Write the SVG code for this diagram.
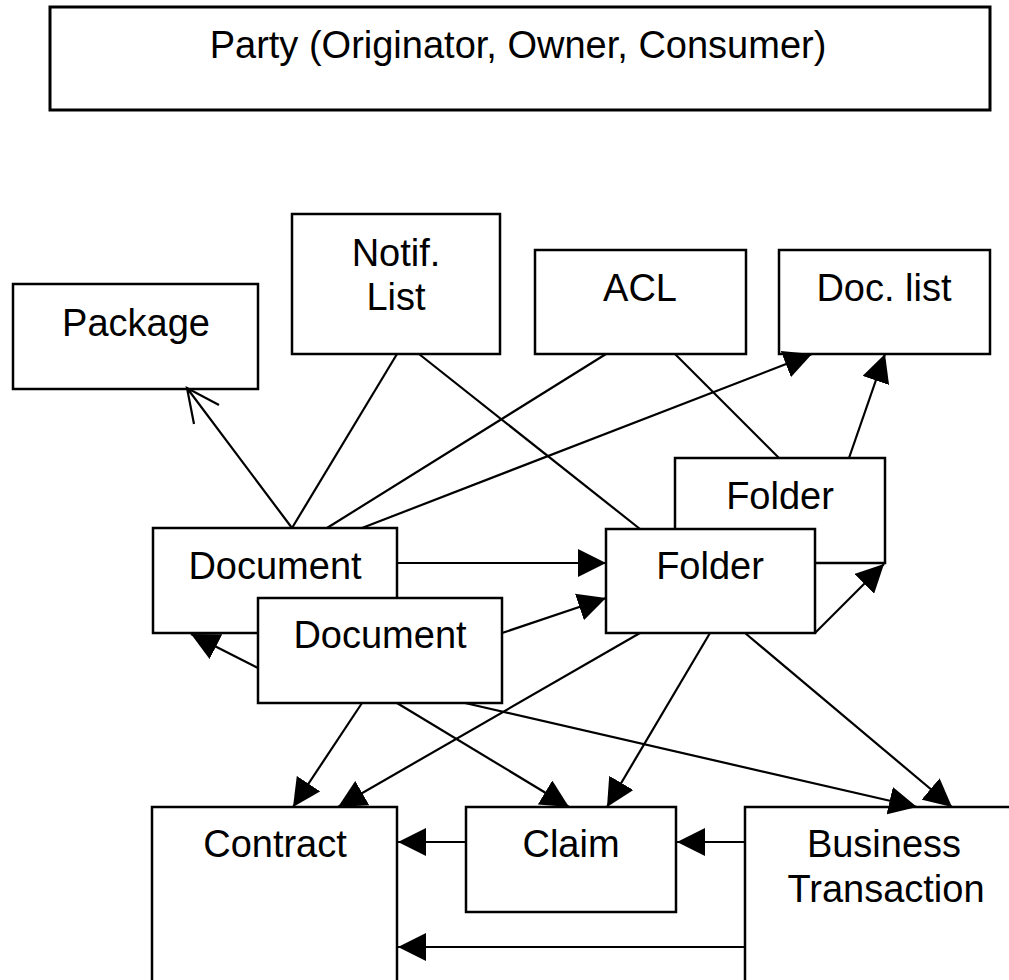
<svg xmlns="http://www.w3.org/2000/svg" width="1009" height="980" viewBox="0 0 1009 980">
<style>
.box{fill:#fff;stroke:#000;stroke-width:2.5}
.lbl{font-family:"Liberation Sans",Arial,sans-serif;font-size:38px;fill:#000;text-anchor:middle}
.ln{fill:none;stroke:#000;stroke-width:2.2}
.arr{marker-end:url(#ah)}
</style>
<defs>
<marker id="ah" markerUnits="userSpaceOnUse" markerWidth="29" markerHeight="28" refX="28" refY="14" orient="auto" viewBox="0 0 29 28">
<path d="M0,0 L28,14 L0,28 z" fill="#000"/>
</marker>
</defs>
<rect width="1009" height="980" fill="#fff"/>
<g id="party"><rect class="box" x="50" y="7" width="940" height="103" style="stroke-width:3"/><text class="lbl" x="518" y="58">Party (Originator, Owner, Consumer)</text></g>
<g id="package"><rect class="box" x="13" y="284" width="245" height="105"/><text class="lbl" x="136" y="336">Package</text></g>
<g id="notif"><rect class="box" x="292" y="214" width="208" height="140"/><text class="lbl" x="396" y="266">Notif.</text><text class="lbl" x="396" y="310">List</text></g>
<g id="acl"><rect class="box" x="535" y="250" width="211" height="104"/><text class="lbl" x="640" y="301">ACL</text></g>
<g id="doclist"><rect class="box" x="779" y="250" width="211" height="104"/><text class="lbl" x="884" y="301">Doc. list</text></g>
<g id="folder-back"><rect class="box" x="675" y="458" width="210" height="105"/><text class="lbl" x="780" y="509">Folder</text></g>
<g id="folder"><rect class="box" x="606" y="529" width="209" height="104"/><text class="lbl" x="710" y="579">Folder</text></g>
<g id="document-back"><rect class="box" x="153" y="528" width="244" height="105"/><text class="lbl" x="275" y="579">Document</text></g>
<g id="document"><rect class="box" x="258" y="598" width="244" height="105"/><text class="lbl" x="380" y="648">Document</text></g>
<g id="contract"><rect class="box" x="152" y="807" width="245" height="190"/><text class="lbl" x="275" y="857">Contract</text></g>
<g id="claim"><rect class="box" x="466" y="807" width="210" height="105"/><text class="lbl" x="571" y="857">Claim</text></g>
<g id="business-transaction"><rect class="box" x="745" y="807" width="280" height="190"/><text class="lbl" x="884" y="857">Business</text><text class="lbl" x="886" y="902">Transaction</text></g>
<g id="connectors">
<path class="ln" d="M292,528 L187,388 M219,405 L187,388 L194,424"/>
<path class="ln" d="M397,354 L292,528"/>
<path class="ln" d="M419,354 L640,529"/>
<path class="ln" d="M606,354 L327,528"/>
<path class="ln" d="M675,354 L779,458"/>
<path class="ln arr" d="M362,528 L812,354"/>
<path class="ln arr" d="M849,458 L885,354"/>
<path class="ln arr" d="M397,563 L606,563"/>
<path class="ln arr" d="M502,633 L606,598"/>
<path class="ln arr" d="M258,668 L191,634"/>
<path class="ln arr" d="M815,633 L884,564"/>
<path class="ln arr" d="M640,633 L338,807"/>
<path class="ln arr" d="M710,633 L607,807"/>
<path class="ln arr" d="M745,633 L952,807"/>
<path class="ln arr" d="M362,703 L293,807"/>
<path class="ln arr" d="M397,703 L569,807"/>
<path class="ln arr" d="M465,703 L917,807"/>
<path class="ln arr" d="M466,842 L398,842"/>
<path class="ln arr" d="M745,842 L677,842"/>
<path class="ln arr" d="M745,947 L398,947"/>
</g>
</svg>
